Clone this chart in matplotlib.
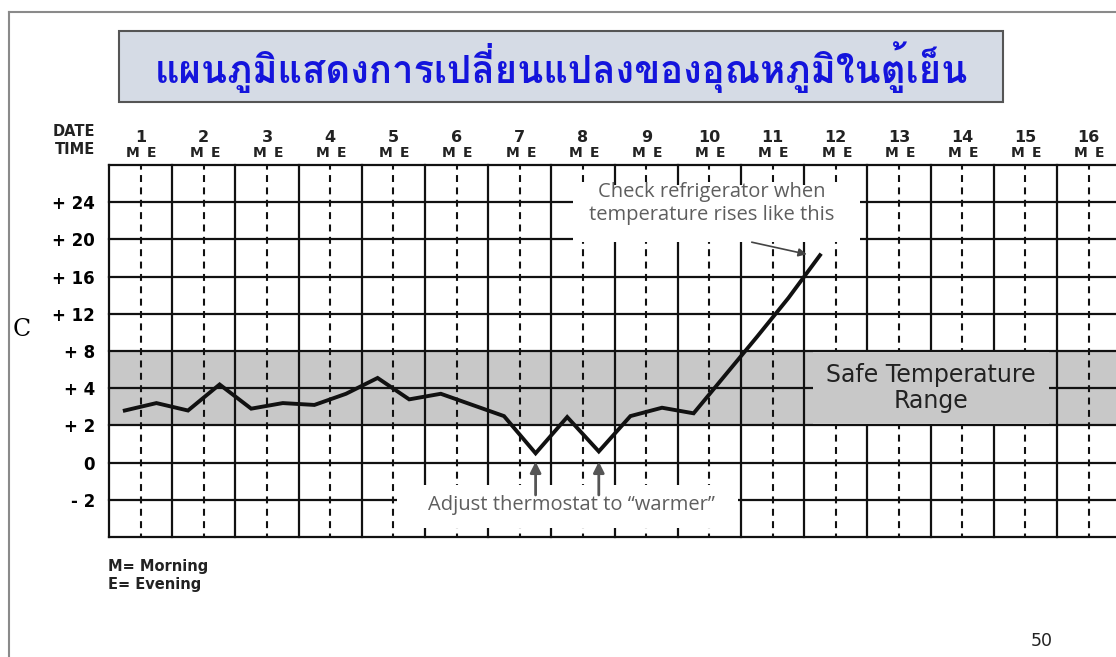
"""
    fridge temperature log chart
"""

import numpy
from matplotlib import pyplot as plt
from matplotlib import font_manager
from matplotlib.ft2font import FT2Font
from matplotlib.lines import Line2D
from matplotlib.patches import Rectangle
from matplotlib.transforms import blended_transform_factory

plt.rcParams['lines.scale_dashes'] = False

title = "แผนภูมิแสดงการเปลี่ยนแปลงของอุณหภูมิในตู้เย็น"

# one reading per morning / evening slot
dates = [1, 1, 2, 2, 3, 3, 4, 4, 5, 5, 6, 6, 7, 7, 8, 8, 9, 9, 10, 10, 11, 11, 12]
times = ['M', 'E', 'M', 'E', 'M', 'E', 'M', 'E', 'M', 'E', 'M', 'E',
         'M', 'E', 'M', 'E', 'M', 'E', 'M', 'E', 'M', 'E', 'M']
temps = [2.8, 3.2, 2.8, 4.4, 2.9, 3.2, 3.1, 3.7, 5.1, 3.4, 3.7, 3.1,
         2.5, 0.5, 2.45, 0.6, 2.5, 2.95, 2.65, 5.4, 9.5, 13.7, 18.3]
adjust_idx = [13, 15]          # where the thermostat was turned

days = list(range(1, 17))
ytick_vals = [-2, 0, 2, 4, 8, 12, 16, 20, 24]
ytick_text = ['- 2', '0', '+ 2', '+ 4', '+ 8', '+ 12', '+ 16', '+ 20', '+ 24']

# rows of the grid are even, the labels on them are not
row_temps = [-4, -2, 0, 2, 4, 8, 12, 16, 20, 24, 28]
safe_lo = 2
safe_hi = 8

W, H = 1116, 657
ink = '#111111'
band = '#c8c8c8'
note = '#5e5e5e'


def thai_font():
    for f in font_manager.fontManager.ttflist:
        try:
            if 0x0E41 in FT2Font(f.fname).get_charmap():
                return f.name
        except Exception:
            pass
    return 'DejaVu Sans'


def fwd(t):
    return numpy.interp(t, row_temps, numpy.arange(len(row_temps)))


def inv(r):
    return numpy.interp(r, numpy.arange(len(row_temps)), row_temps)


def main():
    fig = plt.figure(figsize=(W / 100, H / 100), dpi=100)
    ax = fig.add_axes([109 / W, 1 - 537 / H, 16 * 63.2 / W, 372 / H])
    ax.set_yscale('function', functions=(fwd, inv))
    ax.set_xlim(0.5, 16.5)
    ax.set_ylim(row_temps[0], row_temps[-1])
    for s in ax.spines.values():
        s.set_visible(False)
    ax.set_xticks([])
    ax.set_yticks(ytick_vals, labels=ytick_text, fontsize=12, fontweight='bold')
    ax.tick_params(axis='y', which='both', length=0, pad=10)

    # safe band and grid
    ax.axhspan(safe_lo, safe_hi, color=band, lw=0, zorder=0)
    for t in row_temps:
        ax.axhline(t, color=ink, lw=1.6, zorder=2, clip_on=False)
    for b in numpy.arange(0.5, 17):
        ax.axvline(b, color=ink, lw=1.6, zorder=2, clip_on=False)
    for d in days:
        ax.axvline(d, color=ink, lw=1.5, zorder=2, linestyle=(2.5, (5.0, 3.9)))

    # white gaps behind the notes, grey box for the band label
    ax.add_patch(Rectangle((7.84, 19.7), 12.38 - 7.84, 25.84 - 19.7,
                           facecolor='white', edgecolor='none', zorder=3))
    ax.add_patch(Rectangle((5.06, -3.52), 10.45 - 5.06, 3.52 - 1.2,
                           facecolor='white', edgecolor='none', zorder=3))
    ax.add_patch(Rectangle((11.64, 2.06), 15.37 - 11.64, 7.88 - 2.06,
                           facecolor=band, edgecolor='none', zorder=3))

    xx = [d + (-0.25 if t == 'M' else 0.25) for d, t in zip(dates, times)]
    ax.plot(xx, temps, color=ink, lw=2.8, solid_joinstyle='miter', zorder=5)

    ax.text(13.5, 4.0, "Safe Temperature\nRange", ha='center', va='center',
            fontsize=17, color='#222222', linespacing=1.1, zorder=6)
    ax.text(10.04, 23.9, "Check refrigerator when\ntemperature rises like this",
            ha='center', va='center', fontsize=14.5, family='Open Sans',
            color=note, linespacing=1.2, zorder=6)
    ax.annotate('', xy=(11.54, 18.4), xytext=(10.67, 19.7),
                arrowprops=dict(arrowstyle='-|>', color='#444444', lw=1.2,
                                mutation_scale=12, shrinkA=0, shrinkB=0), zorder=6)
    ax.text(7.81, -2.28, "Adjust thermostat to \u201cwarmer\u201d",
            ha='center', va='center', fontsize=14.5, family='Open Sans',
            color=note, zorder=6)
    for i in adjust_idx:
        ax.annotate('', xy=(xx[i], 0.05), xytext=(xx[i], -1.74),
                    arrowprops=dict(arrowstyle='-|>', color='#555555', lw=2,
                                    mutation_scale=16, shrinkA=0, shrinkB=0), zorder=6)

    # header row
    tr = blended_transform_factory(ax.transData, fig.transFigure)
    for d in days:
        ax.text(d, 1 - 137 / H, str(d), transform=tr, ha='center', va='center',
                fontsize=11.5, fontweight='bold', color='#222222')
        ax.text(d - 0.12, 1 - 153 / H, 'M', transform=tr, ha='center', va='center',
                fontsize=10, fontweight='bold', color='#222222')
        ax.text(d + 0.18, 1 - 153 / H, 'E', transform=tr, ha='center', va='center',
                fontsize=10, fontweight='bold', color='#222222')
    fig.text(95 / W, 1 - 131 / H, 'DATE', ha='right', va='center',
             fontsize=10.5, fontweight='bold', color='#222222')
    fig.text(95 / W, 1 - 149 / H, 'TIME', ha='right', va='center',
             fontsize=10.5, fontweight='bold', color='#222222')

    fig.text(22 / W, 1 - 330 / H, 'C', family='DejaVu Serif', fontsize=17,
             ha='center', va='center')
    fig.text(108 / W, 1 - 566 / H, 'M= Morning', va='center', fontsize=10.5,
             fontweight='bold', color='#222222')
    fig.text(108 / W, 1 - 584 / H, 'E= Evening', va='center', fontsize=10.5,
             fontweight='bold', color='#222222')
    fig.text(1042 / W, 1 - 641 / H, '50', ha='center', va='center', fontsize=12.5,
             color='#222222')

    # slide frame and title box
    fig.add_artist(Line2D([9 / W, 9 / W], [1 - 12 / H, 0], color='#8a8a8a', lw=1.5))
    fig.add_artist(Line2D([9 / W, 1], [1 - 12 / H, 1 - 12 / H], color='#8a8a8a', lw=1.5))
    fig.add_artist(Rectangle((119 / W, 1 - 102 / H), (1003 - 119) / W, 71 / H,
                             transform=fig.transFigure, facecolor='#d5dbe5',
                             edgecolor='#555555', lw=1.5))
    fig.text(561 / W, 1 - 67 / H, title, ha='center', va='center', fontsize=27.5,
             fontweight='bold', color='#1414dc', family=[thai_font(), 'DejaVu Sans'])

    fig.savefig("out.png", dpi=100)


if __name__ == '__main__':
    main()
